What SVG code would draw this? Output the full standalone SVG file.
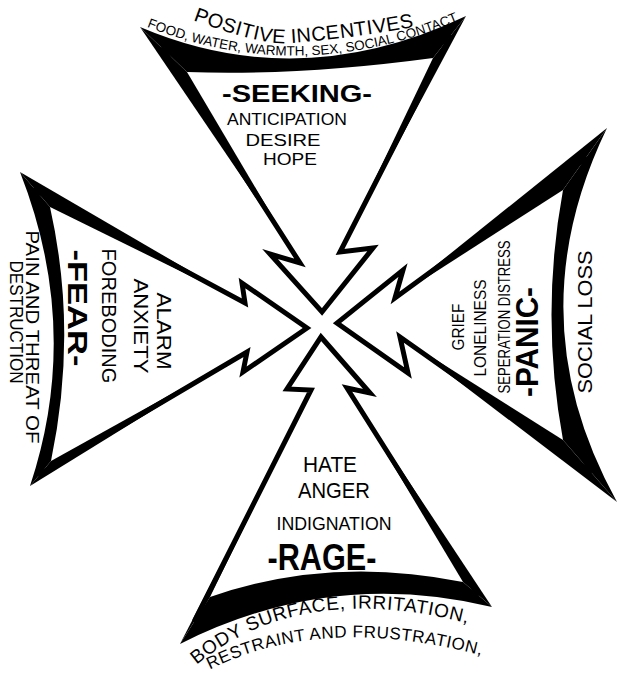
<svg xmlns="http://www.w3.org/2000/svg" width="622" height="677" viewBox="0 0 622 677">
<style>
.ink{fill:#000}
.edge{fill:none;stroke:#000;stroke-width:5;stroke-linejoin:miter;stroke-miterlimit:10;stroke-linecap:round}
.t{font-family:"Liberation Sans",Arial,sans-serif;fill:#000}
.b{font-weight:bold}
</style>
<defs>
<path id="pPos" d="M190,19 Q262,46 290,43 Q340,40 420,26"/>
<path id="pFood" d="M145,26 Q300,88 460,20"/>
<path id="pBody" d="M195,666 Q300,579 470,624"/>
<path id="pRest" d="M207,671 Q320,613 480,655"/>
</defs>
<rect width="622" height="677" fill="#fff"/>

<g id="seeking">
<path class="ink" d="M140,27 Q300,95 466,16 L433,58 Q300,76 187,72 Z"/>
<path class="ink" d="M140,27 L187,72 L300,263 Z"/>
<path class="ink" d="M466,16 L433,58 L340,252 Z"/>
<polyline class="edge" points="163,49 300,263 270,254 322,312 373,248 340,252 450,37"/>
<text class="t" font-size="20"><textPath href="#pPos" startOffset="3" textLength="226" lengthAdjust="spacing">POSITIVE INCENTIVES</textPath></text>
<text class="t" font-size="13.5"><textPath href="#pFood" startOffset="2" textLength="320" lengthAdjust="spacing">FOOD, WATER, WARMTH, SEX, SOCIAL CONTACT</textPath></text>
<text class="t b" x="297" y="102" font-size="24" text-anchor="middle" textLength="150" lengthAdjust="spacingAndGlyphs">-SEEKING-</text>
<text class="t" x="287" y="125" font-size="17" text-anchor="middle" textLength="120" lengthAdjust="spacingAndGlyphs">ANTICIPATION</text>
<text class="t" x="283" y="146" font-size="16" text-anchor="middle" textLength="75" lengthAdjust="spacingAndGlyphs">DESIRE</text>
<text class="t" x="290" y="165" font-size="16" text-anchor="middle" textLength="54" lengthAdjust="spacingAndGlyphs">HOPE</text>
</g>

<g id="fear">
<path class="ink" d="M20,172 Q82,330 30,486 L51,461 Q78,332 50,207 Z"/>
<path class="ink" d="M20,172 L50,207 L245,303 Z"/>
<path class="ink" d="M30,486 L51,461 L247,352 Z"/>
<polyline class="edge" points="35,190 245,303 242,283 307,328 243,372 247,352 40,474"/>
<text class="t" font-size="21" text-anchor="middle" transform="translate(157,331) rotate(90)" textLength="77" lengthAdjust="spacingAndGlyphs">ALARM</text>
<text class="t" font-size="21" text-anchor="middle" transform="translate(134,326) rotate(90)" textLength="95" lengthAdjust="spacingAndGlyphs">ANXIETY</text>
<text class="t" font-size="21" text-anchor="middle" transform="translate(102,316) rotate(90)" textLength="135" lengthAdjust="spacingAndGlyphs">FOREBODING</text>
<text class="t b" font-size="28" text-anchor="middle" transform="translate(68,308) rotate(90)" textLength="117" lengthAdjust="spacingAndGlyphs">-FEAR-</text>
<text class="t" font-size="19" text-anchor="middle" transform="translate(26,337) rotate(90)" textLength="213" lengthAdjust="spacingAndGlyphs">PAIN AND THREAT OF</text>
<text class="t" font-size="19" text-anchor="middle" transform="translate(10,322) rotate(90)" textLength="123" lengthAdjust="spacingAndGlyphs">DESTRUCTION</text>
</g>

<g id="panic">
<path class="ink" d="M607,128 Q515,318 617,502 L563,440 Q540,315 563,190 Z"/>
<path class="ink" d="M607,128 L563,190 L395,298 Z"/>
<path class="ink" d="M617,502 L563,440 L400,337 Z"/>
<polyline class="edge" points="585,159 395,298 403,270 337,323 408,373 400,337 590,471"/>
<text class="t" font-size="16" text-anchor="middle" transform="translate(464,327) rotate(-90)" textLength="47" lengthAdjust="spacingAndGlyphs">GRIEF</text>
<text class="t" font-size="16" text-anchor="middle" transform="translate(486,328) rotate(-90)" textLength="97" lengthAdjust="spacingAndGlyphs">LONELINESS</text>
<text class="t" font-size="16" text-anchor="middle" transform="translate(510,317) rotate(-90)" textLength="153" lengthAdjust="spacingAndGlyphs">SEPERATION DISTRESS</text>
<text class="t b" font-size="31" text-anchor="middle" transform="translate(538,342) rotate(-90)" textLength="110" lengthAdjust="spacingAndGlyphs">-PANIC-</text>
<text class="t" font-size="20" text-anchor="middle" transform="translate(592,322) rotate(-90)" textLength="143" lengthAdjust="spacingAndGlyphs">SOCIAL LOSS</text>
</g>

<g id="rage">
<path class="ink" d="M180,644 Q330,568 492,607 L463,582 Q330,555 210,597 Z"/>
<path class="ink" d="M180,644 L210,597 L311,390 Z"/>
<path class="ink" d="M492,607 L463,582 L347,388 Z"/>
<polyline class="edge" points="195,620 311,390 287,389 321,337 370,393 347,388 477,594"/>
<text class="t" x="330" y="472" font-size="22" text-anchor="middle" textLength="54" lengthAdjust="spacingAndGlyphs">HATE</text>
<text class="t" x="334" y="498" font-size="22" text-anchor="middle" textLength="72" lengthAdjust="spacingAndGlyphs">ANGER</text>
<text class="t" x="334" y="530" font-size="18" text-anchor="middle" textLength="115" lengthAdjust="spacingAndGlyphs">INDIGNATION</text>
<text class="t b" x="322" y="570" font-size="36" text-anchor="middle" textLength="109" lengthAdjust="spacingAndGlyphs">-RAGE-</text>
<text class="t" font-size="19"><textPath href="#pBody" startOffset="2" textLength="285" lengthAdjust="spacing">BODY SURFACE, IRRITATION,</textPath></text>
<text class="t" font-size="17"><textPath href="#pRest" startOffset="3" textLength="278" lengthAdjust="spacing">RESTRAINT AND FRUSTRATION,</textPath></text>
</g>

<g id="connectors"></g>
</svg>
